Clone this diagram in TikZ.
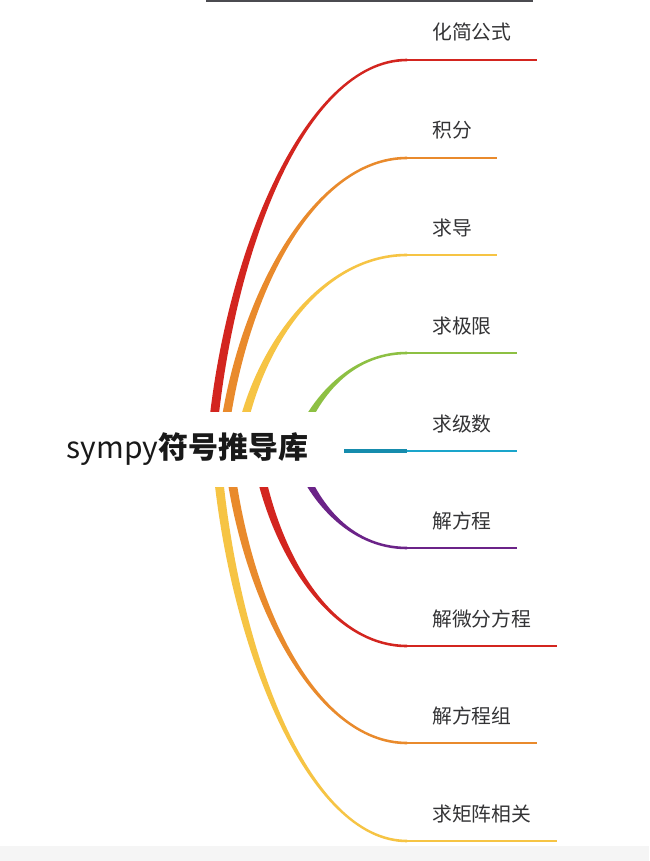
\documentclass[tikz,border=0pt]{standalone}
\usepackage{fontspec}
\setmainfont{Noto Sans CJK SC}
\usepackage{xcolor}
\usepackage{tikz}
\usetikzlibrary{calc}
\definecolor{branchred}{HTML}{D3251F}
\definecolor{branchorange}{HTML}{E98A2C}
\definecolor{branchyellow}{HTML}{F6C444}
\definecolor{branchgreen}{HTML}{8DC043}
\definecolor{branchblue}{HTML}{1AA5CB}
\definecolor{branchpurple}{HTML}{6B2388}
\definecolor{labelgray}{HTML}{333335}
\definecolor{topbar}{HTML}{4B4B50}
\newcommand{\branch}[6]{%
  \coordinate (#1s) at (#2,450);
  \coordinate (#1e) at (407,#3);
  \coordinate (#1f) at (#4,#3);
  \fill[#5] ($(#1s)+(-4.5,0)$) .. controls ({#2+10.5},{450+0.5*(#3-450)}) and ({#2+0.48*(407-#2)},{#3+1.3*sign(#3-450)}) .. ($(#1e)+(0,{1.3*sign(#3-450)})$)
    -- ($(#1e)+(0,{-1.3*sign(#3-450)})$) .. controls ({#2+0.48*(407-#2)},{#3-1.3*sign(#3-450)}) and ({#2+19.5},{450+0.5*(#3-450)}) .. ($(#1s)+(4.5,0)$) -- cycle;
  \draw[#5, line width=2.5] (#1e) -- (#1f);
  \node[lbl] (#1l) at (432,{#3-20}) {#6};
}

\begin{document}
\begin{tikzpicture}[x=1pt,y=-1pt,
    lbl/.style={anchor=base west, inner sep=0pt, text=labelgray, font=\fontsize{19.8}{19.8}\selectfont},
    rootbox/.style={fill=white, inner sep=0pt, minimum width=307, minimum height=75, text=black!90, font=\fontsize{30}{30}\selectfont}]
    \useasboundingbox (0,0) rectangle (649,861);
    \fill[white] (0,0) rectangle (649,861);
    \fill[black!4] (0,846) rectangle (649,861);
    \fill[topbar] (206,0) rectangle (533,2.5);

    \branch{simp}{211}{60}{537}{branchred}{化简公式}
    \branch{integ}{222}{158}{497}{branchorange}{积分}
    \branch{diff}{238}{255}{497}{branchyellow}{求导}
    \branch{lim}{295}{353}{517}{branchgreen}{求极限}
    \branch{eqn}{295}{548}{517}{branchpurple}{解方程}
    \branch{ode}{256}{646}{557}{branchred}{解微分方程}
    \branch{eqsys}{228}{743}{537}{branchorange}{解方程组}
    \branch{matrix}{216}{841}{557}{branchyellow}{求矩阵相关}

    \coordinate (series) at (344,451);
    \coordinate (seriese) at (407,451);
    \coordinate (seriesf) at (517,451);
    \draw[branchblue!85!black, line width=4] (series) -- (seriese);
    \draw[branchblue, line width=2.5] (seriese) -- (seriesf);
    \node[lbl] (seriesl) at (432,431) {求级数};

    \node[rootbox] (root) at (187.5,449.5) {sympy\textbf{符号推导库}};
\end{tikzpicture}
\end{document}
